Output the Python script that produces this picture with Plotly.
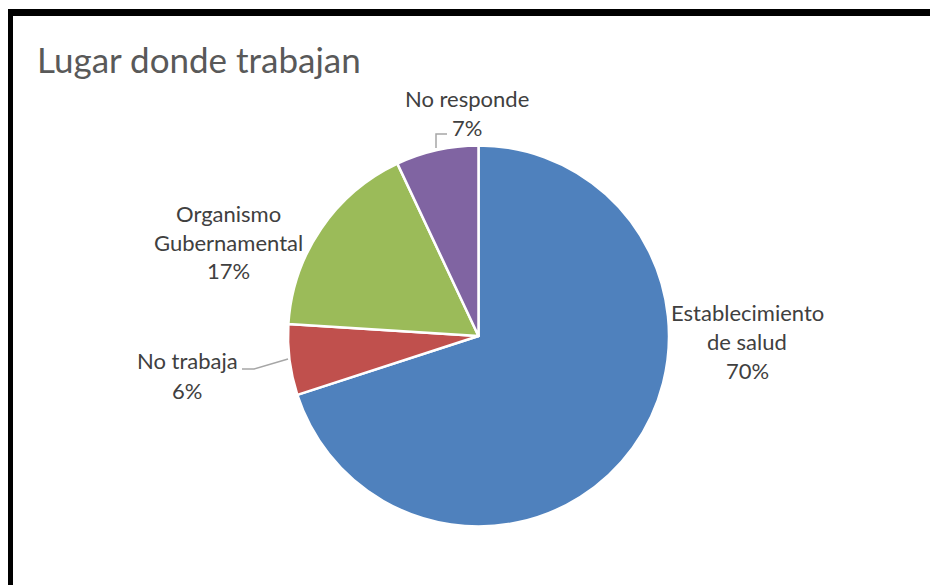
import plotly.graph_objects as go

categories = ["Establecimiento de salud", "No trabaja", "Organismo Gubernamental", "No responde"]
values = [70, 6, 17, 7]
colors = ["#4F81BD", "#C0504D", "#9BBB59", "#8064A2"]
label_lines = [["Establecimiento", "de salud", "70%"],
               ["No trabaja", "6%"],
               ["Organismo", "Gubernamental", "17%"],
               ["No responde", "7%"]]
title_text = "Lugar donde trabajan"

OFF = 8  # page body margin
W, H = 938 - OFF, 585 - OFF
FONT = "Lato"

def px(x, y):
    # page pixel -> paper coords
    return (x - OFF) / W, 1 - (y - OFF) / H

cx0, cy0, r = 478.5, 336, 190.5
fig = go.Figure(go.Pie(
    labels=categories, values=values, sort=False, direction="clockwise", rotation=0,
    marker=dict(colors=colors, line=dict(color="white", width=2.5)),
    textinfo="none", hoverinfo="label+percent", showlegend=False,
    domain=dict(x=[px(cx0 - r, 0)[0], px(cx0 + r, 0)[0]],
                y=[px(0, cy0 + r)[1], px(0, cy0 - r)[1]]),
))

label_pos = [(747, 312), (187, 361), (228, 213), (467, 98)]
line_gap = 29
annotations = []
for lines, (cx, cy) in zip(label_lines, label_pos):
    for i, t in enumerate(lines):
        x, y = px(cx, cy + i * line_gap)
        if t == "7%":
            x, y = px(467, cy + i * line_gap)
        annotations.append(dict(x=x, y=y, xref="paper", yref="paper", text=t, showarrow=False,
                                xanchor="center", yanchor="middle",
                                font=dict(family=FONT, size=22, color="#404040")))
tx, ty = px(35, 59)
annotations.append(dict(x=tx, y=ty, xref="paper", yref="paper", text=title_text, showarrow=False,
                        xanchor="left", yanchor="middle",
                        font=dict(family=FONT, size=35, color="#595959")))

def path(points):
    return "M " + " L ".join(f"{px(x, y)[0]},{px(x, y)[1]}" for x, y in points)

shapes = [
    dict(type="rect", xref="paper", yref="paper", x0=0, x1=1.0,
         y0=px(0, 16)[1], y1=px(0, 9)[1], fillcolor="black", line=dict(width=0)),
    dict(type="rect", xref="paper", yref="paper", x0=0, x1=px(13, 0)[0],
         y0=0, y1=px(0, 9)[1], fillcolor="black", line=dict(width=0)),
    dict(type="path", xref="paper", yref="paper", path=path([(436, 148), (436, 134), (447, 134)]),
         line=dict(color="#A6A6A6", width=1.5)),
    dict(type="path", xref="paper", yref="paper", path=path([(242, 369), (254, 369), (288, 359)]),
         line=dict(color="#A6A6A6", width=1.5)),
]

fig.update_layout(width=W, height=H, margin=dict(l=0, r=0, t=0, b=0),
                  paper_bgcolor="white", plot_bgcolor="white",
                  annotations=annotations, shapes=shapes)
fig.write_html("out.html")
